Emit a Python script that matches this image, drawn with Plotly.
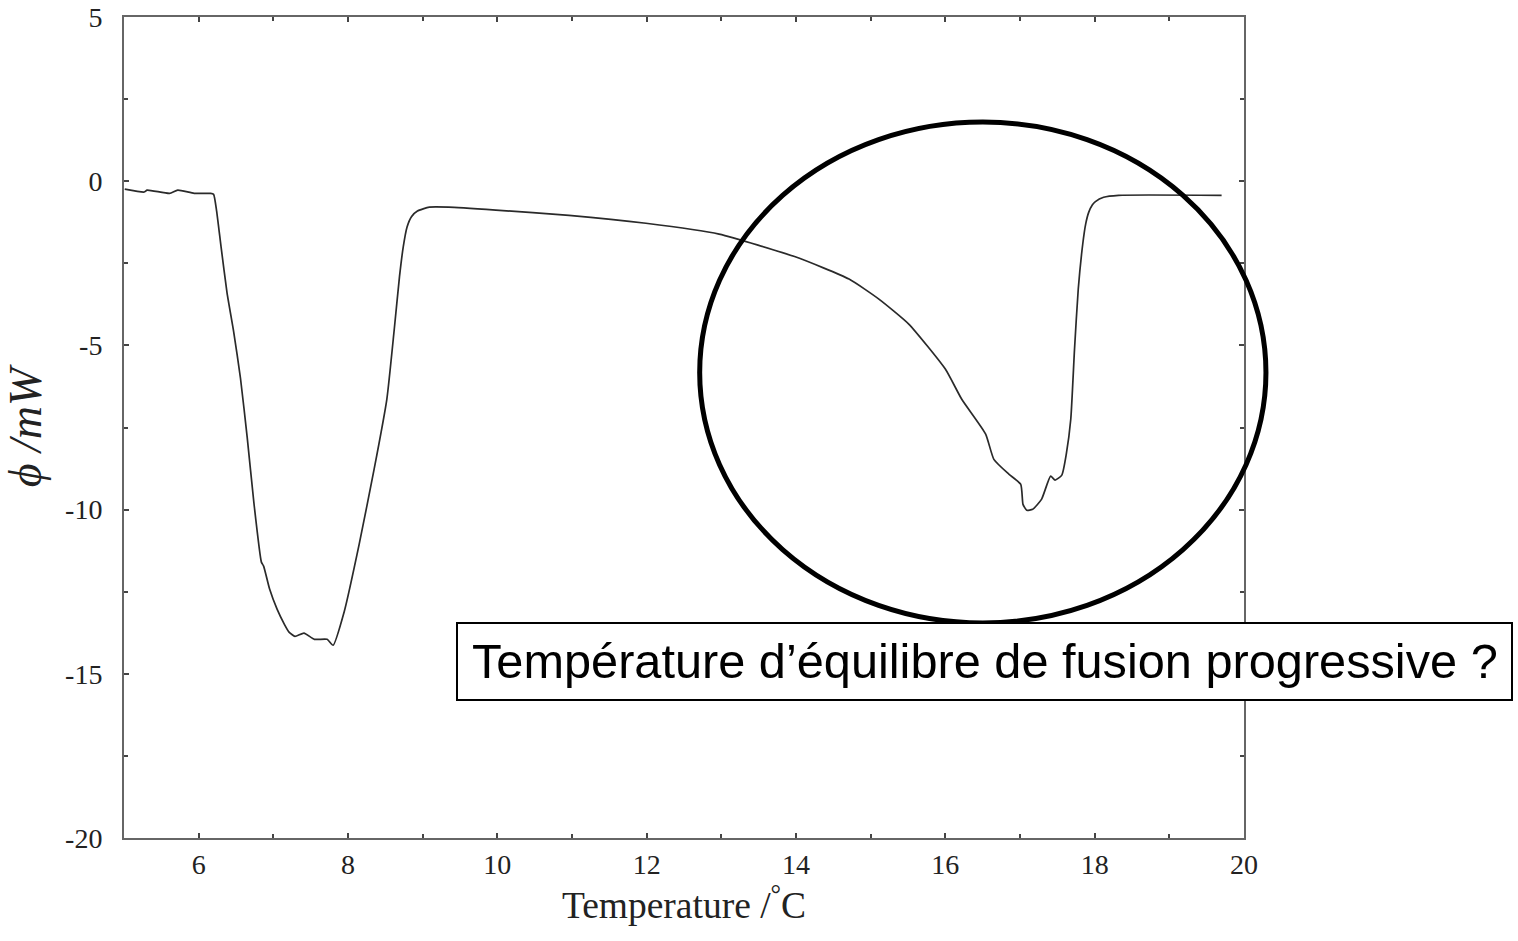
import plotly.graph_objects as go

# DSC curve
temperature = [5.01, 5.27, 5.31, 5.61, 5.72, 5.94, 6.16, 6.20, 6.24, 6.30, 6.38, 6.47, 6.56, 6.65,
               6.74, 6.84, 6.87, 6.95, 7.05, 7.15, 7.21, 7.29, 7.41, 7.55, 7.72, 7.80, 7.95, 8.15,
               8.35, 8.52, 8.62, 8.69, 8.74, 8.79, 8.85, 8.93, 9.09, 9.35, 9.98, 10.96, 11.99,
               12.97, 14.00, 14.71, 15.11, 15.51, 16.00, 16.22, 16.54, 16.65, 16.85, 17.01, 17.04,
               17.09, 17.17, 17.29, 17.41, 17.47, 17.56, 17.62, 17.68, 17.73, 17.78, 17.84, 17.88,
               17.92, 17.97, 18.01, 18.12, 18.32, 19.70]
heat_flow = [-0.24, -0.33, -0.27, -0.37, -0.27, -0.37, -0.37, -0.40, -0.90, -2.00, -3.40, -4.60,
             -6.00, -7.80, -9.80, -11.60, -11.72, -12.42, -13.03, -13.50, -13.73, -13.86, -13.76,
             -13.95, -13.95, -14.13, -13.10, -11.05, -8.77, -6.64, -4.50, -2.90, -2.00, -1.40,
             -1.08, -0.91, -0.79, -0.79, -0.88, -1.04, -1.28, -1.61, -2.31, -2.98, -3.59, -4.35,
             -5.72, -6.64, -7.70, -8.47, -8.92, -9.23, -9.84, -10.02, -9.99, -9.68, -8.98, -9.10,
             -8.95, -8.31, -7.25, -5.12, -3.29, -1.92, -1.30, -0.95, -0.72, -0.62, -0.49, -0.43,
             -0.43]

x_range = [5, 20]
y_range = [-20, 5]
x_ticks = [6, 8, 10, 12, 14, 16, 18, 20]
y_ticks = [-20, -15, -10, -5, 0, 5]
annotation_text = "Température d’équilibre de fusion progressive ?"

fig = go.Figure()
fig.add_trace(go.Scatter(x=temperature, y=heat_flow, mode="lines",
                         line=dict(color="#2a2a2a", width=1.7, shape="spline", smoothing=0.5),
                         showlegend=False))

axis_common = dict(showline=True, linecolor="#666666", linewidth=2, mirror="allticks",
                   ticks="inside", ticklen=5, tickcolor="#444444", tickwidth=1.5,
                   showgrid=False, zeroline=False, automargin=False,
                   tickfont=dict(family="Liberation Serif", size=28, color="#222222"))

fig.update_xaxes(range=x_range, tickvals=x_ticks, ticktext=[str(v) for v in x_ticks],
                 minor=dict(dtick=1, tick0=0, ticks="inside", ticklen=4, tickcolor="#444444",
                            showgrid=False),
                 title=dict(text="Temperature /<sup>°</sup>C",
                            font=dict(family="Liberation Serif", size=37.5, color="#222222"),
                            standoff=4),
                 ticklabelstandoff=0, **axis_common)
fig.update_yaxes(range=y_range, tickvals=y_ticks, ticktext=[str(v) for v in y_ticks],
                 minor=dict(dtick=2.5, tick0=0, ticks="inside", ticklen=4, tickcolor="#444444",
                            showgrid=False),
                 title=dict(text="<i>ϕ /mW</i>",
                            font=dict(family="Liberation Serif", size=46, color="#222222"),
                            standoff=14),
                 ticklabelstandoff=14, **axis_common)

# Ellipse and text box (paper coordinates of the plotting area)
fig.add_shape(type="circle", xref="paper", yref="paper",
              x0=0.514, x1=1.0196, y0=0.262, y1=0.872,
              line=dict(color="black", width=5))
fig.add_shape(type="rect", xref="paper", yref="paper",
              x0=(457 - 124) / 1120, x1=(1512 - 124) / 1120,
              y0=(838 - 700) / 821, y1=(838 - 623) / 821,
              line=dict(color="black", width=2), fillcolor="white", layer="above")
fig.add_annotation(xref="paper", yref="paper",
                   x=(985 - 124) / 1120, y=(838 - 661) / 821,
                   text=annotation_text, showarrow=False,
                   font=dict(family="Liberation Sans", size=48.7, color="black"),
                   xanchor="center", yanchor="middle")

fig.update_layout(width=1518, height=941, plot_bgcolor="white", paper_bgcolor="white",
                  margin=dict(l=124, r=274, t=17, b=103))

fig.write_html("out.html")
